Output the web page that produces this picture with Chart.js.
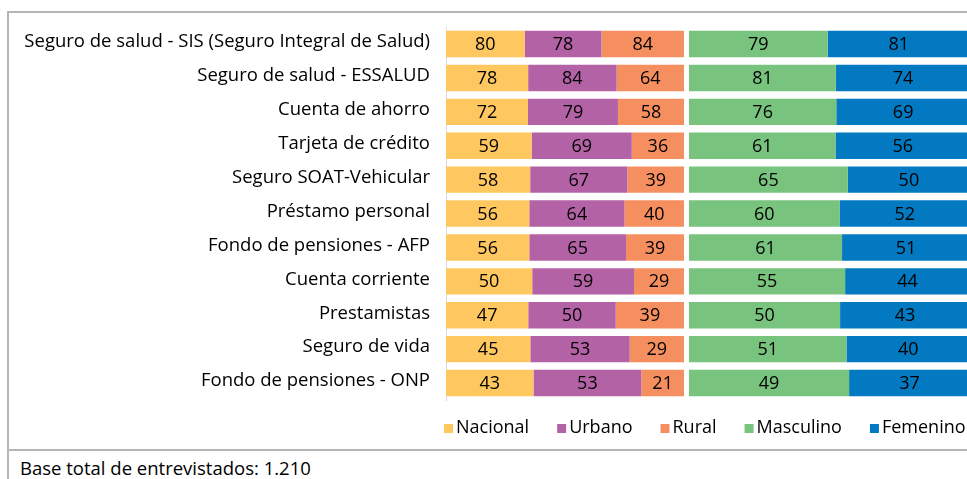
<!doctype html>
<html lang="es">
  <head>
    <meta charset="utf-8">
    <title>Tenencia de productos financieros</title>
    <script src="https://cdn.jsdelivr.net/npm/chart.js"></script>
    <style>
      html, body { margin: 0; padding: 0; background: #fff; overflow: hidden; }
      body { width: 967px; height: 479px; position: relative; font-family: 'Open Sans', sans-serif; }
      .frame { position: absolute; left: 7px; top: 11px; width: 1000px; height: 500px; border-left: 2px solid #b6b6b6; border-top: 2px solid #b6b6b6; }
      .frame-line { position: absolute; left: 7px; top: 449px; width: 1000px; border-top: 2px solid #b6b6b6; }
      .chart-box { position: absolute; left: 0; top: 0; width: 967px; height: 452px; }
      .note { position: absolute; left: 20px; top: 455px; font-size: 18.5px; line-height: 26px; color: #000; }
    </style>
  </head>
  <body>
    <div class="frame"></div>
    <div class="frame-line"></div>
    <div class="chart-box"><canvas id="chart"></canvas></div>
    <div class="note">Base total de entrevistados: 1.210</div>
    <script>
      const categories = ['Seguro de salud - SIS (Seguro Integral de Salud)', 'Seguro de salud - ESSALUD', 'Cuenta de ahorro',
        'Tarjeta de crédito', 'Seguro SOAT-Vehicular', 'Préstamo personal', 'Fondo de pensiones - AFP',
        'Cuenta corriente', 'Prestamistas', 'Seguro de vida', 'Fondo de pensiones - ONP'];
      const nacional  = [80, 78, 72, 59, 58, 56, 56, 50, 47, 45, 43];
      const urbano    = [78, 84, 79, 69, 67, 64, 65, 59, 50, 53, 53];
      const rural     = [84, 64, 58, 36, 39, 40, 39, 29, 39, 29, 21];
      const masculino = [79, 81, 76, 61, 65, 60, 61, 55, 50, 51, 49];
      const femenino  = [81, 74, 69, 56, 50, 52, 51, 44, 43, 40, 37];

      // each group is drawn as a 100% stacked bar of fixed length (x scale in px units)
      const GROUP1 = 238, GAP = 5, GROUP2 = 281, XMAX = 521;
      function share(series, group, width) {
        return series.map((v, j) => v / group.reduce((s, a) => s + a[j], 0) * width);
      }
      const g1 = [nacional, urbano, rural];
      const g2 = [masculino, femenino];

      const ds = (label, values, group, width, color) => ({
        label, values, data: share(values, group, width), backgroundColor: color, stack: 's'
      });

      const valueLabels = {
        id: 'valueLabels',
        afterDatasetsDraw(chart) {
          const ctx = chart.ctx;
          ctx.save();
          ctx.font = '18px "Open Sans"';
          ctx.fillStyle = '#000';
          ctx.textAlign = 'center';
          ctx.textBaseline = 'middle';
          chart.data.datasets.forEach((d, i) => {
            if (!d.values) return;
            chart.getDatasetMeta(i).data.forEach((bar, j) => {
              ctx.fillText(d.values[j], (bar.x + bar.base) / 2, bar.y + 1);
            });
          });
          ctx.restore();
        }
      };

      const legendRow = {
        id: 'legendRow',
        afterDraw(chart) {
          const ctx = chart.ctx;
          ctx.save();
          ctx.font = '18px "Open Sans"';
          ctx.textBaseline = 'middle';
          let x = chart.chartArea.left - 2;
          const y = 428;
          chart.data.datasets.forEach(d => {
            if (!d.values) return;
            ctx.fillStyle = d.backgroundColor;
            ctx.fillRect(x, y - 4, 9, 9);
            ctx.fillStyle = '#000';
            ctx.fillText(d.label, x + 12, y);
            x += 12 + ctx.measureText(d.label).width + 28;
          });
          ctx.restore();
        }
      };

      new Chart(document.getElementById('chart'), {
        type: 'bar',
        data: {
          labels: categories,
          datasets: [
            ds('Nacional', nacional, g1, GROUP1, '#ffc75f'),
            ds('Urbano', urbano, g1, GROUP1, '#b462a6'),
            ds('Rural', rural, g1, GROUP1, '#f68f60'),
            { label: '', data: categories.map(() => GAP), backgroundColor: 'rgba(0,0,0,0)', stack: 's' },
            ds('Masculino', masculino, g2, GROUP2, '#78c37e'),
            ds('Femenino', femenino, g2, GROUP2, '#0279c1')
          ]
        },
        options: {
          indexAxis: 'y',
          responsive: true,
          maintainAspectRatio: false,
          animation: false,
          layout: { padding: { top: 22, bottom: 52, left: 0, right: 0 } },
          datasets: { bar: { categoryPercentage: 1, barPercentage: 0.78 } },
          plugins: { legend: { display: false }, tooltip: { enabled: false } },
          scales: {
            x: { stacked: true, min: 0, max: XMAX, display: false },
            y: {
              stacked: true,
              grid: { display: false, drawTicks: false },
              border: { display: true, color: '#d9d9d9', width: 1 },
              ticks: { color: '#000', padding: 16, labelOffset: -2, font: { family: 'Open Sans', size: 18.5 } },
              afterFit(scale) { scale.width = 446; }
            }
          }
        },
        plugins: [valueLabels, legendRow]
      });
    </script>
  </body>
</html>
